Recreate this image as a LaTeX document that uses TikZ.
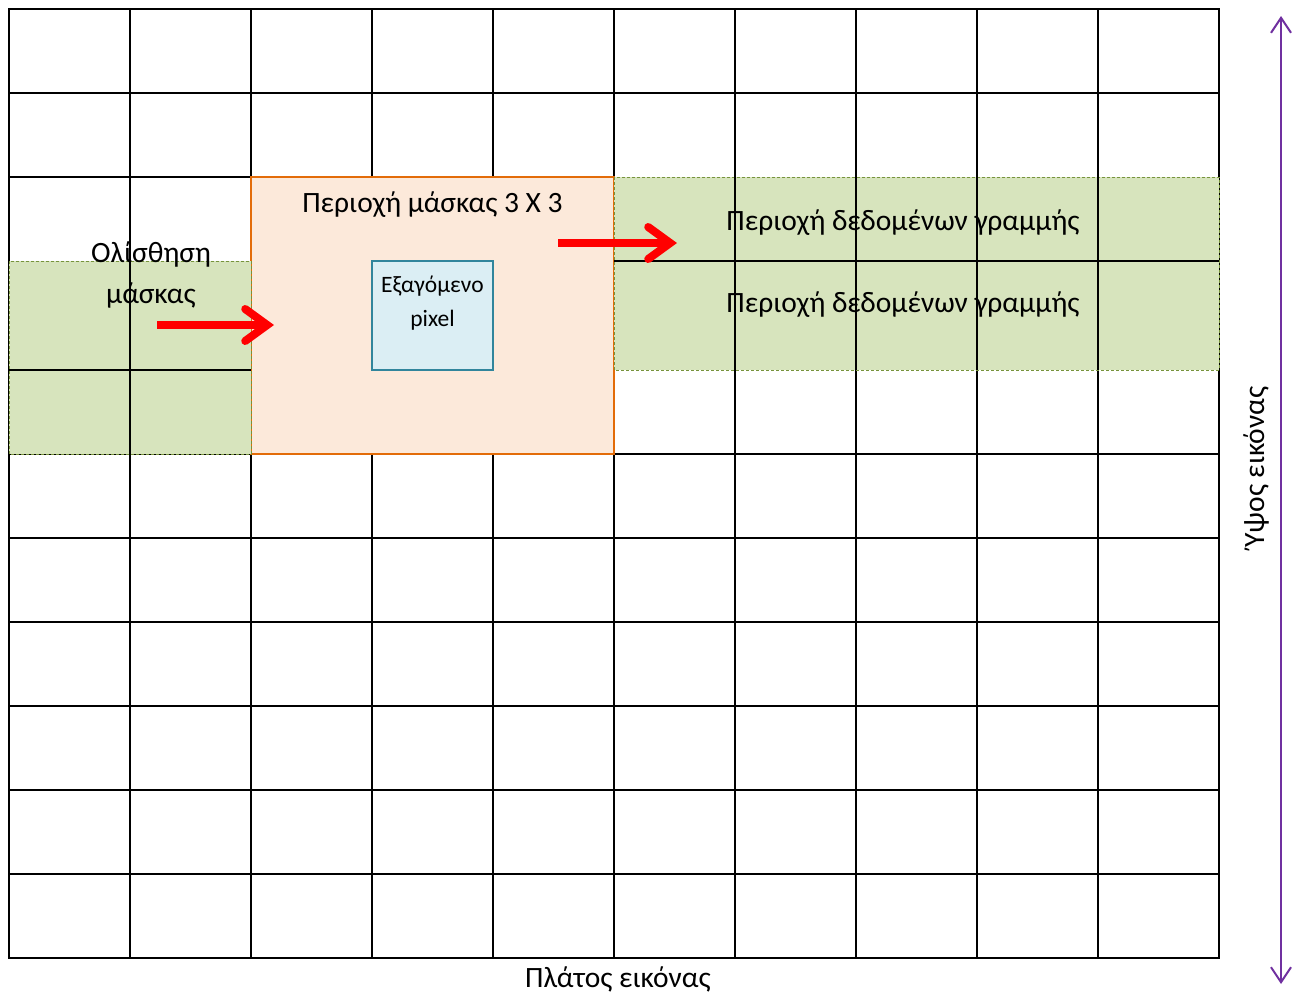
\documentclass[tikz,border=0pt]{standalone}
\usepackage{fontspec}
\setmainfont{Carlito}
\usetikzlibrary{arrows.meta}

\definecolor{gridgreen}{HTML}{D7E4BD}
\definecolor{gridgreenedge}{HTML}{77933C}
\definecolor{maskfill}{HTML}{FCE9DA}
\definecolor{maskedge}{HTML}{E36C09}
\definecolor{pixfill}{HTML}{DBEEF4}
\definecolor{pixedge}{HTML}{31859C}
\definecolor{axispurple}{HTML}{7030A0}

\tikzset{
  gridline/.style={black, line width=2},
  greenband/.style={fill=gridgreen, draw=gridgreenedge, dash pattern=on 3pt off 2pt, line width=1},
  maskbox/.style={fill=maskfill, draw=maskedge, line width=2},
  pixbox/.style={fill=pixfill, draw=pixedge, line width=2},
  bigtext/.style={font=\fontsize{29.5}{41}\selectfont, align=center, inner sep=0},
  smalltext/.style={font=\fontsize{23.5}{34}\selectfont, align=center, inner sep=0},
  slide/.style={red, line width=8, -{Straight Barb[length=22pt, width=32pt, line cap=round]}},
  axis/.style={axispurple, line width=2, {Straight Barb[length=15pt, width=20pt]}-{Straight Barb[length=15pt, width=20pt]}}
}

\begin{document}
\begin{tikzpicture}[x=1pt, y=-1pt]
\useasboundingbox (0,0) rectangle (1300,994);
\fill[white] (0,0) rectangle (1300,994);

% vertical grid lines
\foreach \i in {0,...,10}
  \draw[gridline] ({9+121*\i},9) -- ({9+121*\i},958);
% horizontal grid lines spanning the full width
\foreach \yy in {9,93,454,538,622,706,790,874,958}
  \draw[gridline] (8,\yy) -- (1220,\yy);
% row boundary above the left band
\draw[gridline] (8,177) -- (251,177);

% 3x3 mask window
\draw[maskbox] (251,177) rectangle (614,454);

% data bands of the current rows
\draw[greenband] (9,261) rectangle (251,454);
\draw[greenband] (614,177) rectangle (1219,370);

% grid lines inside the left band
\draw[gridline] (130,261) -- (130,454);
\draw[gridline] (9,370) -- (251,370);
% grid lines inside the right band
\foreach \xx in {735,856,977,1098}
  \draw[gridline] (\xx,177) -- (\xx,370);
\draw[gridline] (614,261) -- (1219,261);

% output pixel
\node[pixbox, minimum width=121pt, minimum height=109pt, inner sep=0] (pix) at (432.5,315.5) {};
\node[smalltext] (pixlabel) at (432.5,303) {Εξαγόμενο\\pixel};

% labels
\node[bigtext] (masklabel) at (432.5,205) {Περιοχή μάσκας 3 X 3};
\node[bigtext] (slidelabel) at (151,275) {Ολίσθηση\\μάσκας};
\node[bigtext] (row1) at (903,223) {Περιοχή δεδομένων γραμμής};
\node[bigtext] (row2) at (903,305) {Περιοχή δεδομένων γραμμής};
\node[bigtext] (width) at (618,979) {Πλάτος εικόνας};
\node[bigtext, rotate=90] (height) at (1256,467) {Ύψος εικόνας};

% sliding arrows
\coordinate (s1a) at (157,325);
\coordinate (s1b) at (274,325);
\coordinate (s2a) at (558,243);
\coordinate (s2b) at (677,243);
\draw[slide] (s1a) -- (s1b);
\draw[slide] (s2a) -- (s2b);

% image height axis
\coordinate (htop) at (1281,16);
\coordinate (hbot) at (1281,984);
\draw[axis] (htop) -- (hbot);
\end{tikzpicture}
\end{document}
